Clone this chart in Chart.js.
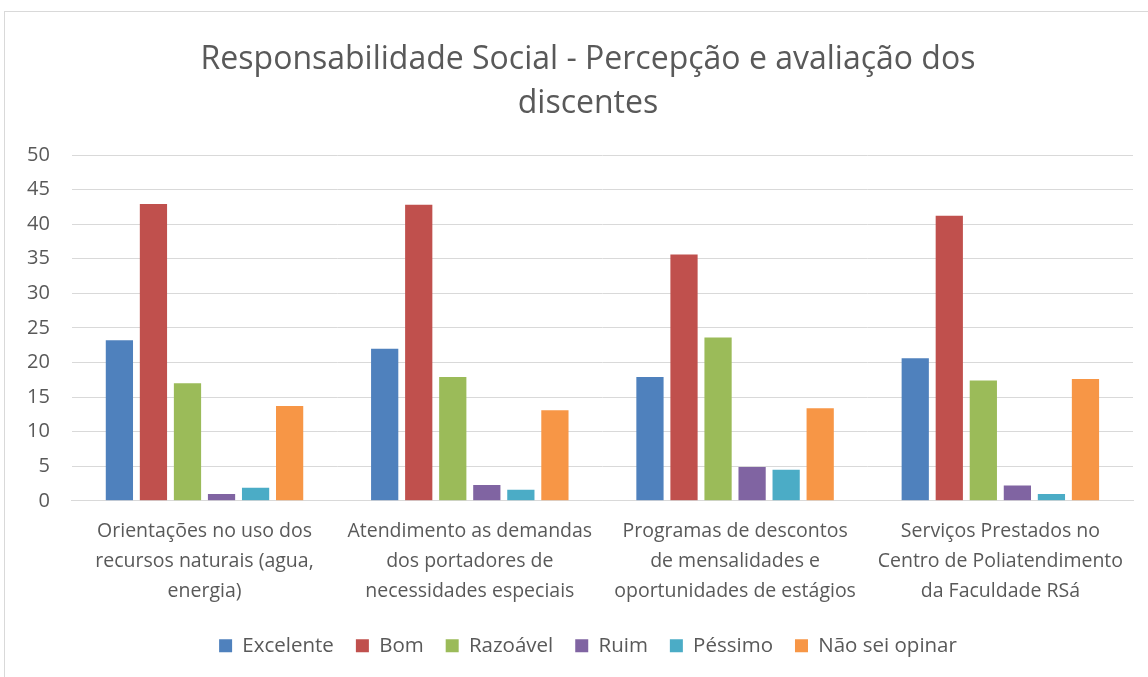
<!DOCTYPE html>
<html>
<head>
<meta charset="utf-8">
<script src="https://cdn.jsdelivr.net/npm/chart.js@4/dist/chart.umd.min.js"></script>
<style>
  body { margin: 0; background: #fff; overflow: hidden; }
  #wrap { position: absolute; left: 4px; top: 11px; width: 1166px; height: 666px; border: 1px solid #d9d9d9; border-bottom: none; }
</style>
</head>
<body>
<div id="wrap"><canvas id="c"></canvas></div>
<script>
const categories = [
  ["Orientações no uso dos", "recursos naturais (agua,", "energia)"],
  ["Atendimento as demandas", "dos portadores de", "necessidades especiais"],
  ["Programas de descontos", "de mensalidades e", "oportunidades de estágios"],
  ["Serviços Prestados no", "Centro de Poliatendimento", "da Faculdade RSá"]
];
const seriesNames = ["Excelente", "Bom", "Razoável", "Ruim", "Péssimo", "Não sei opinar"];
const excelente = [23.2, 22.0, 17.9, 20.6];
const bom = [42.9, 42.8, 35.6, 41.2];
const razoavel = [17.0, 17.9, 23.6, 17.4];
const ruim = [1.0, 2.3, 4.9, 2.2];
const pessimo = [1.9, 1.6, 4.5, 1.0];
const naoSei = [13.7, 13.1, 13.4, 17.6];
const colors = ["#4f81bd", "#c0504d", "#9bbb59", "#8064a2", "#4bacc6", "#f79646"];
const yTicks = [0, 5, 10, 15, 20, 25, 30, 35, 40, 45, 50];

const allSeries = [excelente, bom, razoavel, ruim, pessimo, naoSei];
const font = "'Open Sans', sans-serif";
Chart.defaults.font.family = font;
Chart.defaults.color = "#595959";

new Chart(document.getElementById("c").getContext("2d"), {
  type: 'bar',
  data: {
    labels: categories,
    datasets: allSeries.map((d, i) => ({
      label: seriesNames[i],
      data: d,
      backgroundColor: colors[i],
      borderWidth: 0,
      barPercentage: 0.8,
      categoryPercentage: 0.77
    }))
  },
  options: {
    responsive: true,
    maintainAspectRatio: false,
    animation: false,
    layout: {padding: {left: 0, right: 0, top: 16, bottom: 12}},
    plugins: {
      title: {
        display: true,
        text: ["Responsabilidade Social - Percepção e avaliação dos", "discentes"],
        font: {size: 32, weight: 'normal', lineHeight: 1.375},
        color: "#595959",
        padding: {top: 10, bottom: 29}
      },
      legend: {
        position: 'bottom',
        labels: {boxWidth: 13, boxHeight: 13, font: {size: 20.5}, padding: 22}
      },
      tooltip: {enabled: false}
    },
    scales: {
      x: {
        grid: {display: false},
        border: {color: "#d9d9d9"},
        ticks: {font: {size: 19.5, lineHeight: 1.55}, maxRotation: 0, autoSkip: false, padding: 7}
      },
      y: {
        min: 0, max: 50,
        afterBuildTicks: axis => { axis.ticks = yTicks.map(v => ({value: v})); },
        grid: {color: "#d9d9d9", drawTicks: false},
        border: {display: false},
        ticks: {font: {size: 20}, padding: 22}
      },
      // empty spacer on the right so the plot ends where the original does
      spacer: {
        type: 'linear',
        position: 'right',
        grid: {display: false},
        border: {display: false},
        ticks: {display: false},
        afterFit: axis => { axis.width = 38; }
      }
    }
  }
});
</script>
</body>
</html>
